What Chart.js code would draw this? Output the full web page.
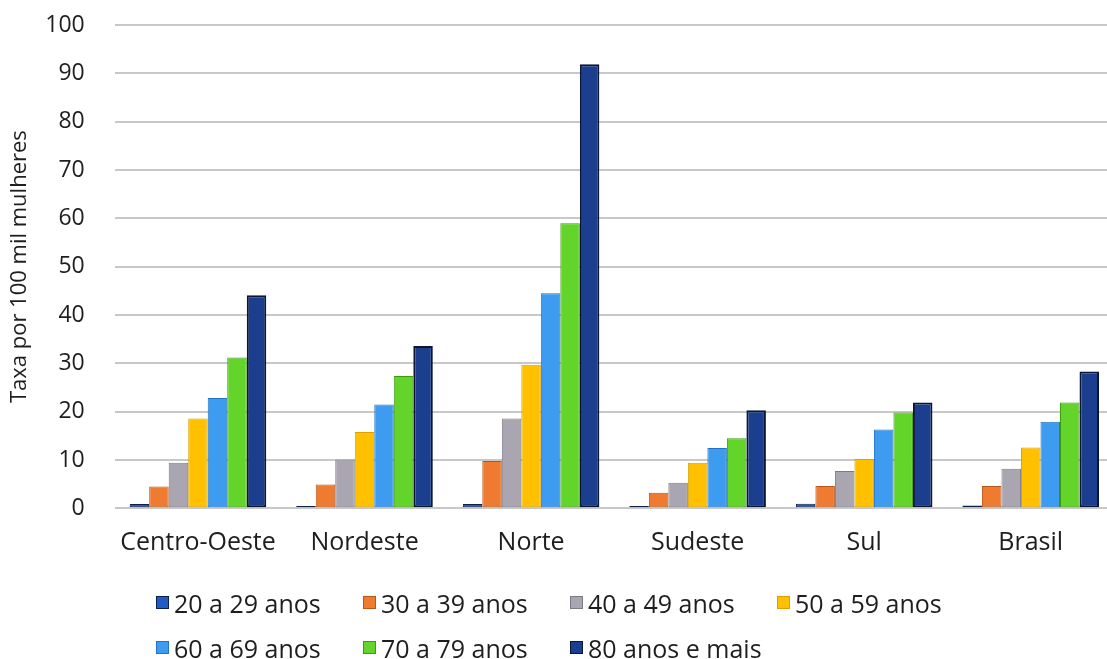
<!DOCTYPE html>
<html>
<head>
<meta charset="utf-8">
<title>Taxa por 100 mil mulheres</title>
<script src="https://cdn.jsdelivr.net/npm/chart.js@4.4.0/dist/chart.umd.min.js"></script>
<style>
  html, body { margin: 0; padding: 0; background: #fff; }
  #wrap { position: relative; width: 1107px; height: 659px; overflow: hidden; }
  #grafico { display: block; }
  #legend {
    position: absolute; left: 156px; top: 580px;
    display: grid; grid-template-columns: repeat(4, 207px); grid-auto-rows: 45px;
    font-family: 'Open Sans', sans-serif; font-size: 25px; color: #1e1e1e;
  }
  .item { display: flex; align-items: center; white-space: nowrap; }
  .box { width: 13px; height: 13px; margin-right: 5px; box-sizing: border-box; border: 1px solid; }
</style>
</head>
<body>
<div id="wrap">
  <!-- a area do grafico passa um pouco da borda direita, como no original -->
  <canvas id="grafico" width="1114" height="659"></canvas>
  <div id="legend"></div>
</div>
<script>
// categorias (regioes) e faixas etarias
var regioes = ['Centro-Oeste', 'Nordeste', 'Norte', 'Sudeste', 'Sul', 'Brasil'];
var faixas = ['20 a 29 anos', '30 a 39 anos', '40 a 49 anos', '50 a 59 anos',
              '60 a 69 anos', '70 a 79 anos', '80 anos e mais'];

// taxas, na ordem das regioes
var taxa20a29 = [0.9, 0.5, 0.9, 0.5, 0.95, 0.6];
var taxa30a39 = [4.5, 4.9, 9.8, 3.2, 4.6, 4.6];
var taxa40a49 = [9.4, 10.1, 18.6, 5.3, 7.7, 8.2];
var taxa50a59 = [18.6, 15.8, 29.7, 9.4, 10.2, 12.6];
var taxa60a69 = [22.8, 21.5, 44.5, 12.5, 16.3, 17.9];
var taxa70a79 = [31.2, 27.4, 59.0, 14.5, 19.8, 21.9];
var taxa80mais = [44.1, 33.6, 91.9, 20.3, 21.9, 28.3];

var series = [taxa20a29, taxa30a39, taxa40a49, taxa50a59, taxa60a69, taxa70a79, taxa80mais];

// cores
var cores = ['#1f5bc4', '#ee7b30', '#a9a6b2', '#ffc000', '#3d9cf0', '#63d52a', '#1b3f8e'];
var bordas = ['#0d1f4a', '#b8561a', '#7d7a86', '#d9a200', '#2373c4', '#3c9a12', '#0a1633'];

var datasets = [];
for (var i = 0; i < faixas.length; i++) {
    datasets.push({
        label: faixas[i],
        data: series[i],
        backgroundColor: cores[i],
        borderColor: bordas[i],
        borderWidth: i == 6 ? 2 : 1,
        borderSkipped: false,
        categoryPercentage: 0.82,
        barPercentage: 1.0
    });
}

var fonte = "'Open Sans', sans-serif";

var grafico = new Chart(document.getElementById('grafico'), {
    type: 'bar',
    data: { labels: regioes, datasets: datasets },
    options: {
        responsive: false,
        animation: false,
        devicePixelRatio: 1,
        layout: { padding: { top: 25, right: 0, bottom: 100, left: 0 } },
        plugins: {
            legend: { display: false },
            tooltip: { enabled: false }
        },
        scales: {
            x: {
                grid: { display: false, drawTicks: false },
                border: { display: false },
                ticks: { color: '#1e1e1e', padding: 20, font: { family: fonte, size: 25 } },
                afterFit: function(scale) { scale.height = 50.7; }
            },
            y: {
                min: 0, max: 100,
                grid: { color: '#c8c8c8', lineWidth: 2, drawTicks: false },
                border: { display: false },
                ticks: { stepSize: 10, color: '#1e1e1e', padding: 30, font: { family: fonte, size: 23 } },
                title: {
                    display: true, text: 'Taxa por 100 mil mulheres', color: '#1e1e1e',
                    font: { family: fonte, size: 22 }, padding: { top: 7, bottom: 0 }
                },
                afterFit: function(scale) {
                    scale.width = 114.7;
                    // o padding dos ticks nao deve empurrar o topo da area
                    scale.paddingTop = 0;
                    scale.paddingBottom = 0;
                }
            }
        }
    }
});

// legenda em html, montada a partir dos datasets
var leg = document.getElementById('legend');
grafico.data.datasets.forEach(function(ds) {
    var item = document.createElement('div');
    item.className = 'item';
    var box = document.createElement('span');
    box.className = 'box';
    box.style.background = ds.backgroundColor;
    box.style.borderColor = ds.borderColor;
    item.appendChild(box);
    item.appendChild(document.createTextNode(ds.label));
    leg.appendChild(item);
});
</script>
</body>
</html>
